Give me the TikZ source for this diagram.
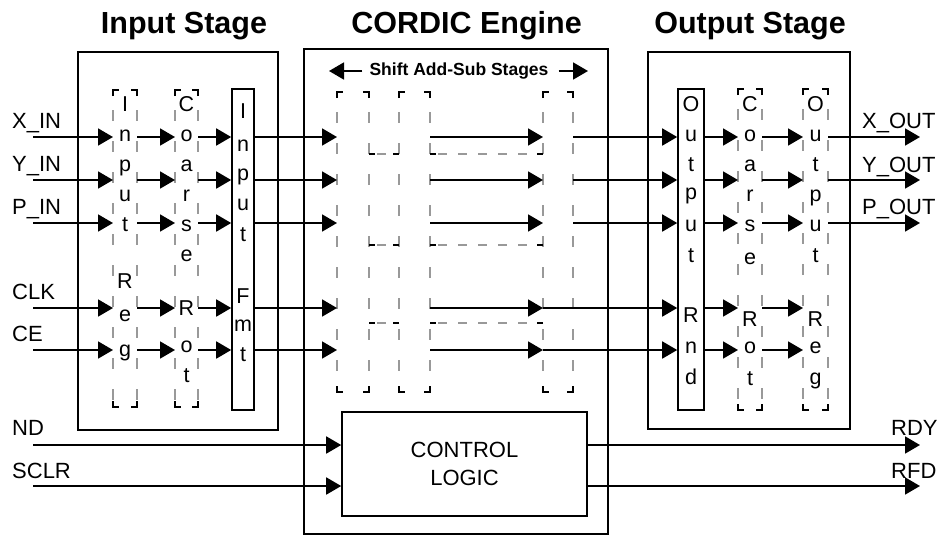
\documentclass[tikz,border=0pt]{standalone}
\usepackage{fontspec}
\setmainfont{Liberation Sans}
\usetikzlibrary{arrows.meta,fit,calc}
\newcommand\brackcorners[1]{%
  \draw[crn] ([yshift=-6pt]#1.north west) -- (#1.north west) -- ([xshift=6pt]#1.north west);
  \draw[crn] ([yshift=-6pt]#1.north east) -- (#1.north east) -- ([xshift=-6pt]#1.north east);
  \draw[crn] ([yshift=6pt]#1.south west) -- (#1.south west) -- ([xshift=6pt]#1.south west);
  \draw[crn] ([yshift=6pt]#1.south east) -- (#1.south east) -- ([xshift=-6pt]#1.south east);}
\newcommand\colframe[5]{%
  \coordinate (#1-a) at (#2,#3); \coordinate (#1-b) at (#4,#5);
  \node[inner sep=0pt, outer sep=0pt, fit=(#1-a)(#1-b)] (#1) {};
  \draw[gdash] (#1.north west) -- (#1.south west);
  \draw[gdash] (#1.north east) -- (#1.south east);
  \brackcorners{#1}}
\begin{document}
\begin{tikzpicture}[x=1pt,y=-1pt,
  box/.style={draw, line width=1.6pt, inner sep=0pt},
  sig/.style={line width=1.8pt, -{Triangle[length=15pt,width=17pt]}},
  gdash/.style={draw=gray!80, line width=1.3pt, dash pattern=on 11pt off 20pt, dash phase=11pt},
  hdash/.style={draw=gray!80, line width=1.3pt, dash pattern=on 9pt off 11pt, dash phase=-8pt},
  crn/.style={line width=1.6pt},
  title/.style={font=\fontsize{30.5}{34}\selectfont\bfseries, anchor=base, inner sep=0pt},
  lab/.style={font=\fontsize{22}{26}\selectfont, anchor=base west, inner sep=0pt},
  ltr/.style={font=\fontsize{21.5}{24}\selectfont, anchor=base, inner sep=0pt},
]
\useasboundingbox (0,0) rectangle (944,541);

% outer stage boxes
\node[box, minimum width=200pt, minimum height=378pt] (instage) at (178,241) {};
\node[box, minimum width=304pt, minimum height=485pt] (engine) at (456,291.5) {};
\node[box, minimum width=202pt, minimum height=377pt] (outstage) at (749,240.5) {};

% titles
\node[title] (tin) at (184,33) {Input Stage};
\node[title] (teng) at (466.5,33) {CORDIC Engine};
\node[title] (tout) at (750,33) {Output Stage};

% row coordinates
\foreach \r/\y in {X/137,Y/180,P/223,C/308,E/350,N/445,S/486}{
  \coordinate (r\r) at (0,\y);
  \coordinate (s\r) at (33,\y);
  \coordinate (t\r) at (920,\y);
}

% input labels
\node[lab] (lxin) at (12,128) {X\_IN};
\node[lab] (lyin) at (12,171) {Y\_IN};
\node[lab] (lpin) at (12,214) {P\_IN};
\node[lab] (lclk) at (12,299) {CLK};
\node[lab] (lce) at (12,341) {CE};
\node[lab] (lnd) at (12,435) {ND};
\node[lab] (lsclr) at (12,478) {SCLR};
% output labels
\node[lab] (lxout) at (862,128) {X\_OUT};
\node[lab] (lyout) at (862,172) {Y\_OUT};
\node[lab] (lpout) at (862,214) {P\_OUT};
\node[lab] (lrdy) at (891,435) {RDY};
\node[lab] (lrfd) at (891,478) {RFD};

% input stage columns
\colframe{ir}{113}{90}{137}{407}
\colframe{ic}{175}{90}{198}{407}
\node[box, minimum width=22pt, minimum height=321pt] (fmt) at (243,249.5) {};
\foreach \t/\y in {I/111,n/141,p/171,u/201,t/231,R/288,e/321,g/356}
  \node[ltr] (irl\y) at (125,\y) {\t};
\foreach \t/\y in {C/111,o/141,a/171,r/201,s/231,e/261,R/315,o/352,t/382}
  \node[ltr] (icl\y) at (186.5,\y) {\t};
\foreach \t/\y in {I/118,n/151,p/180,u/210,t/241,F/303,m/331,t/361}
  \node[ltr] (fml\y) at (243,\y) {\t};

% CORDIC engine columns
\colframe{c1}{337}{92}{369}{392}
\colframe{c2}{399}{92}{430}{392}
\colframe{c3}{543}{92}{573}{392}
\foreach \y in {154,245,323}{
  \draw[hdash] (c1.east |- 0,\y) -- (c2.west |- 0,\y);
  \draw[hdash] (c2.east |- 0,\y) -- (c3.west |- 0,\y);
  \draw[crn] (c1.east |- 0,\y) -- ++(6,0);
  \draw[crn] (c2.west |- 0,\y) -- ++(-6,0);
  \draw[crn] (c2.east |- 0,\y) -- ++(6,0);
  \draw[crn] (c3.west |- 0,\y) -- ++(-6,0);
}
\node[font=\fontsize{17.5}{20}\selectfont\bfseries, inner sep=3pt] (shift) at (459,71) {Shift Add-Sub Stages};
\coordinate (shLt) at (329,71);
\coordinate (shRt) at (588,71);
\draw[sig] ([xshift=-4pt]shift.west) -- (shLt);
\draw[sig] ([xshift=7pt]shift.east) -- (shRt);

% output stage columns
\node[box, minimum width=26pt, minimum height=321pt] (rnd) at (691,249.5) {};
\colframe{oc}{738}{89}{762}{410}
\colframe{orr}{803}{89}{828}{410}
\foreach \t/\y in {O/111,u/141,t/171,p/199,u/231,t/262,R/322,n/353,d/384}
  \node[ltr] (rnl\y) at (691,\y) {\t};
\foreach \t/\y in {C/111,o/141,a/171,r/201,s/231,e/264,R/326,o/353,t/385}
  \node[ltr] (ocl\y) at (750,\y) {\t};
\foreach \t/\y in {O/111,u/141,t/171,p/201,u/231,t/262,R/326,e/353,g/384}
  \node[ltr] (orl\y) at (815.5,\y) {\t};

% control logic
\node[box, minimum width=245pt, minimum height=104pt, align=center,
      font=\fontsize{22}{28}\selectfont] (ctl) at (464.5,464) {CONTROL\\LOGIC};

% signal connectors
\foreach \r in {X,Y,P,C,E}{
  \draw[sig] (s\r) -- (ir.west |- r\r);
  \draw[sig] (ir.east |- r\r) -- (ic.west |- r\r);
  \draw[sig] (ic.east |- r\r) -- (fmt.west |- r\r);
  \draw[sig] (fmt.east |- r\r) -- (c1.west |- r\r);
  \draw[sig] (c2.east |- r\r) -- (c3.west |- r\r);
  \draw[sig] (rnd.east |- r\r) -- (oc.west |- r\r);
  \draw[sig] (oc.east |- r\r) -- (orr.west |- r\r);
}
\foreach \r in {X,Y,P}{
  \draw[sig] (c3.east |- r\r) -- (rnd.west |- r\r);
  \draw[sig] (orr.east |- r\r) -- (t\r);
}
\foreach \r in {C,E}
  \draw[sig] (c3.west |- r\r) -- (rnd.west |- r\r);
\foreach \r in {N,S}{
  \draw[sig] (s\r) -- (ctl.west |- r\r);
  \draw[sig] (ctl.east |- r\r) -- (t\r);
}
\end{tikzpicture}
\end{document}
